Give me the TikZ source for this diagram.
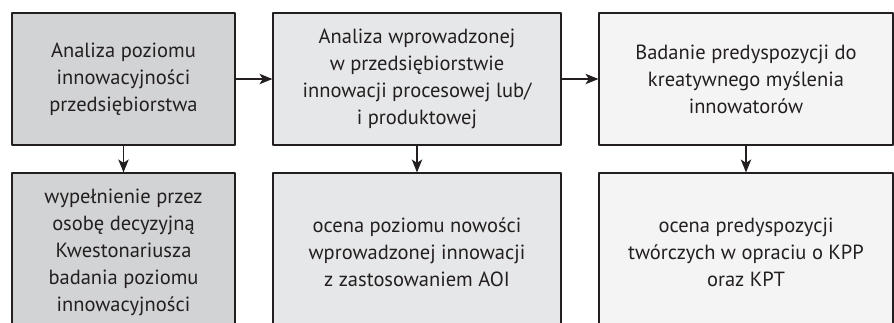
\documentclass[tikz,border=0pt]{standalone}
\usepackage{fontspec}
\setmainfont{PT Sans}
\usetikzlibrary{arrows.meta}
\definecolor{ink}{HTML}{231F20}
\definecolor{fillA}{HTML}{D1D3D4}
\definecolor{fillB}{HTML}{E6E7E8}
\definecolor{fillC}{HTML}{F4F4F5}
\tikzset{box/.style={draw=ink,line width=1.2pt,align=center,inner sep=0pt,text=ink}}

\begin{document}
\begin{tikzpicture}[x=1pt,y=-1pt,>={Stealth[length=13pt,width=10.5pt,inset=3.5pt]}, font=\fontsize{20.5}{27}\selectfont, line join=round]
		\useasboundingbox (0,0) rectangle (894,322);
		\clip (0,0) rectangle (894,322);
		\path
		(123.5,79) coordinate (P1)
		(417,79) coordinate (P2)
		(746,79) coordinate (P3)
		(123.5,252) coordinate (Q1)
		(417,252) coordinate (Q2)
		(746,252) coordinate (Q3)
		;
		\node[box,fill=fillA,minimum width=223pt,minimum height=132pt] (A1) at (P1) {Analiza poziomu\\innowacyjności\\przedsiębiorstwa};
		\node[box,fill=fillB,minimum width=288pt,minimum height=132pt] (A2) at (P2) {Analiza wprowadzonej\\w przedsiębiorstwie\\innowacji procesowej lub/\\i produktowej};
		\node[box,fill=fillC,minimum width=294pt,minimum height=132pt] (A3) at (P3) {Badanie predyspozycji do\\kreatywnego myślenia\\innowatorów};
		\node[box,fill=fillA,minimum width=223pt,minimum height=158pt] (B1) at (Q1) {wypełnienie przez\\osobę decyzyjną\\Kwestonariusza\\badania poziomu\\innowacyjności};
		\node[box,fill=fillB,minimum width=288pt,minimum height=158pt] (B2) at (Q2) {ocena poziomu nowości\\wprowadzonej innowacji\\z zastosowaniem AOI};
		\node[box,fill=fillC,minimum width=294pt,minimum height=158pt] (B3) at (Q3) {ocena predyspozycji\\twórczych w opraciu o KPP\\oraz KPT};
		\foreach \a/\b in {A1/B1,A2/B2,A3/B3,A1/A2,A2/A3}
		\draw[->,ink,line width=1.2pt] (\a)--(\b);
\end{tikzpicture}
\end{document}
